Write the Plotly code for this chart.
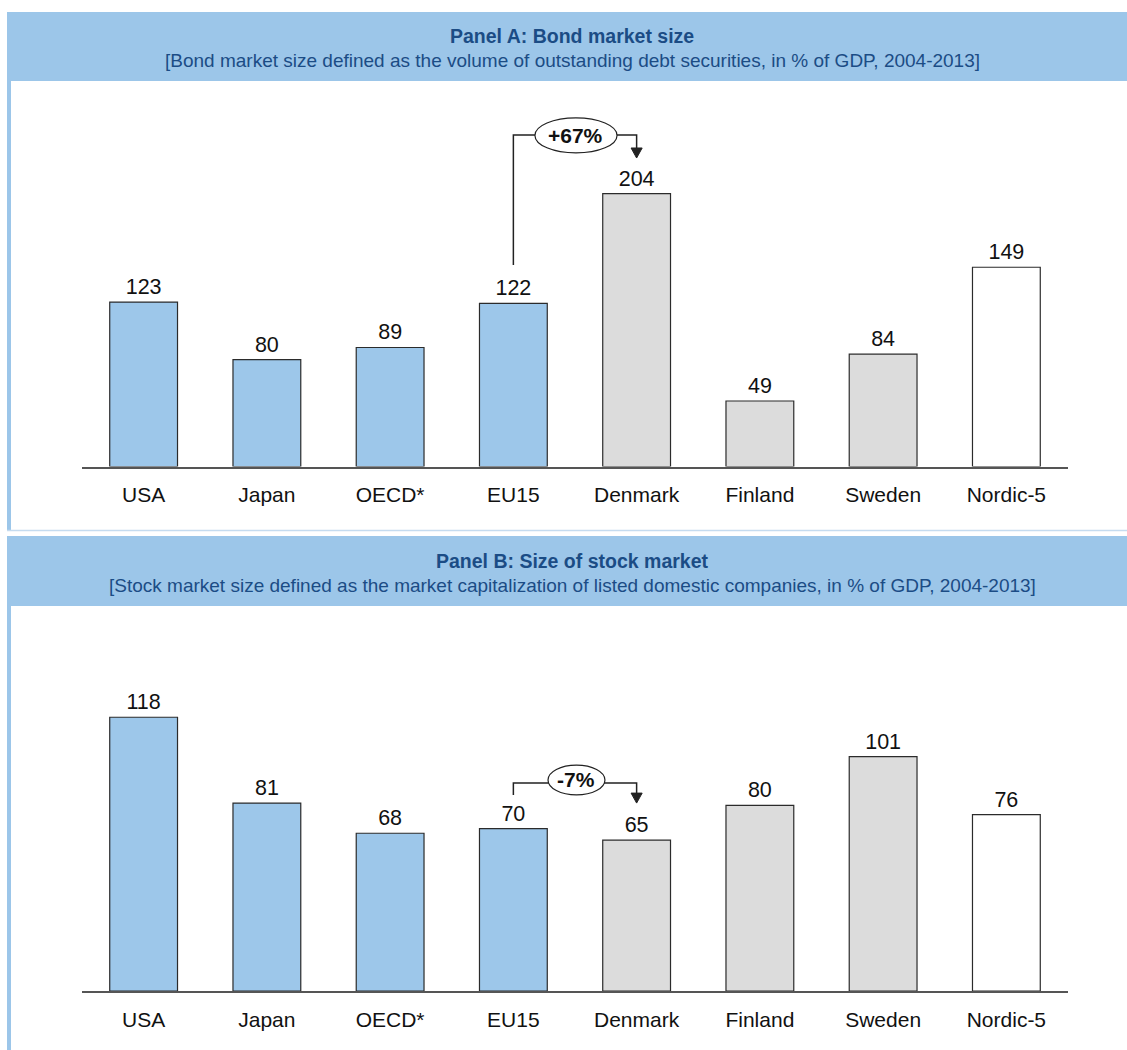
import plotly.graph_objects as go

W, H = 1127, 1050

categories = ["USA", "Japan", "OECD*", "EU15", "Denmark", "Finland", "Sweden", "Nordic-5"]
bond_values = [123, 80, 89, 122, 204, 49, 84, 149]
stock_values = [118, 81, 68, 70, 65, 80, 101, 76]
bar_groups = ["blue", "blue", "blue", "blue", "gray", "gray", "gray", "white"]

title_a = "Panel A: Bond market size"
sub_a = "[Bond market size defined as the volume of outstanding debt securities, in % of GDP, 2004-2013]"
title_b = "Panel B: Size of stock market"
sub_b = "[Stock market size defined as the market capitalization of listed domestic companies, in % of GDP, 2004-2013]"
change_a = "+67%"
change_b = "-7%"

BAND = "#9cc6e9"
COLORS = {"blue": "#9dc7ea", "gray": "#dcdcdc", "white": "#ffffff"}
TXT = "#1b4c85"
FONT = "Liberation Sans, Arial, sans-serif"


def px(x):
    return x / W


def py(y):
    return 1 - y / H


fig = go.Figure()

bar_colors = [COLORS[g] for g in bar_groups]
for vals, xa, ya in [(bond_values, "x", "y"), (stock_values, "x2", "y2")]:
    fig.add_trace(go.Bar(
        x=categories, y=vals, xaxis=xa, yaxis=ya,
        marker=dict(color=bar_colors, line=dict(color="#2b2b2b", width=1.2)),
        width=0.55,
        text=[str(v) for v in vals], textposition="outside",
        textfont=dict(size=21.5, color="#111111", family=FONT),
        cliponaxis=False, showlegend=False, hoverinfo="skip",
    ))

xdom = [px(82), px(1068)]
axis_common = dict(showgrid=False, zeroline=False, showline=True, linecolor="#555555",
                   linewidth=1.5, ticks="", tickfont=dict(size=21, color="#111111", family=FONT),
                   ticklabelstandoff=9, fixedrange=True)

fig.update_layout(
    width=W, height=H, margin=dict(l=0, r=0, t=0, b=0),
    paper_bgcolor="white", plot_bgcolor="rgba(0,0,0,0)",
    font=dict(family=FONT),
    bargap=0.45,
    xaxis=dict(domain=xdom, anchor="y", range=[-0.5, 7.5], type="category", **axis_common),
    yaxis=dict(domain=[py(466.5), py(92.1)], range=[0, 280], visible=False, fixedrange=True),
    xaxis2=dict(domain=xdom, anchor="y2", range=[-0.5, 7.5], type="category", **axis_common),
    yaxis2=dict(domain=[py(991), py(643)], range=[0, 150], visible=False, fixedrange=True),
)

shapes = []
# header bands
for y0, y1 in [(12, 81), (536, 606)]:
    shapes.append(dict(type="rect", xref="paper", yref="paper", x0=px(7), x1=px(1127),
                       y0=py(y1), y1=py(y0), fillcolor=BAND, line=dict(width=0), layer="below"))
# panel borders
for y0, y1 in [(81, 531), (606, 1050)]:
    shapes.append(dict(type="rect", xref="paper", yref="paper", x0=px(7), x1=px(11),
                       y0=py(y1), y1=py(y0), fillcolor=BAND, line=dict(width=0), layer="below"))
shapes.append(dict(type="line", xref="paper", yref="paper", x0=px(7), x1=px(1127),
                   y0=py(530.5), y1=py(530.5), line=dict(color="#c5dbef", width=1.5), layer="below"))


def connector(xr, yr, y_start, y_line, tip, base, ex0, ex1, ey0, ey1):
    out = []
    out.append(dict(type="path", xref=xr, yref=yr,
                    path=f"M 3,{y_start} L 3,{y_line} L 4,{y_line} L 4,{base}",
                    line=dict(color="#222222", width=1.5)))
    out.append(dict(type="path", xref=xr, yref=yr,
                    path=f"M 3.955,{base} L 4.045,{base} L 4,{tip} Z",
                    fillcolor="#222222", line=dict(color="#222222", width=1)))
    out.append(dict(type="circle", xref=xr, yref=yr, x0=ex0, x1=ex1, y0=ey0, y1=ey1,
                    fillcolor="white", line=dict(color="#222222", width=1.2)))
    return out


shapes += connector("x", "y", 150.7, 247.9, 230.7, 238.2, 3.175, 3.841, 234.5, 260.7)
shapes += connector("x2", "y2", 84.5, 89.7, 81.0, 85.3, 3.281, 3.743, 84.5, 97.4)
fig.update_layout(shapes=shapes)

ann = []
ann.append(dict(x=3.508, y=247.6, xref="x", yref="y", text=f"<b>{change_a}</b>", showarrow=False,
                yanchor="middle", font=dict(size=21, color="#111111", family=FONT)))
ann.append(dict(x=3.512, y=91.0, xref="x2", yref="y2", text=f"<b>{change_b}</b>", showarrow=False,
                yanchor="middle", font=dict(size=21, color="#111111", family=FONT)))
for t, s, yt, ys in [(title_a, sub_a, 36, 61), (title_b, sub_b, 561, 585.5)]:
    ann.append(dict(x=px(572), y=py(yt), xref="paper", yref="paper", text=f"<b>{t}</b>",
                    yanchor="middle", showarrow=False, font=dict(size=19.5, color=TXT, family=FONT)))
    ann.append(dict(x=px(572), y=py(ys), xref="paper", yref="paper", text=s,
                    yanchor="middle", showarrow=False, font=dict(size=19, color=TXT, family=FONT)))
fig.update_layout(annotations=ann)

fig.write_html("out.html")
